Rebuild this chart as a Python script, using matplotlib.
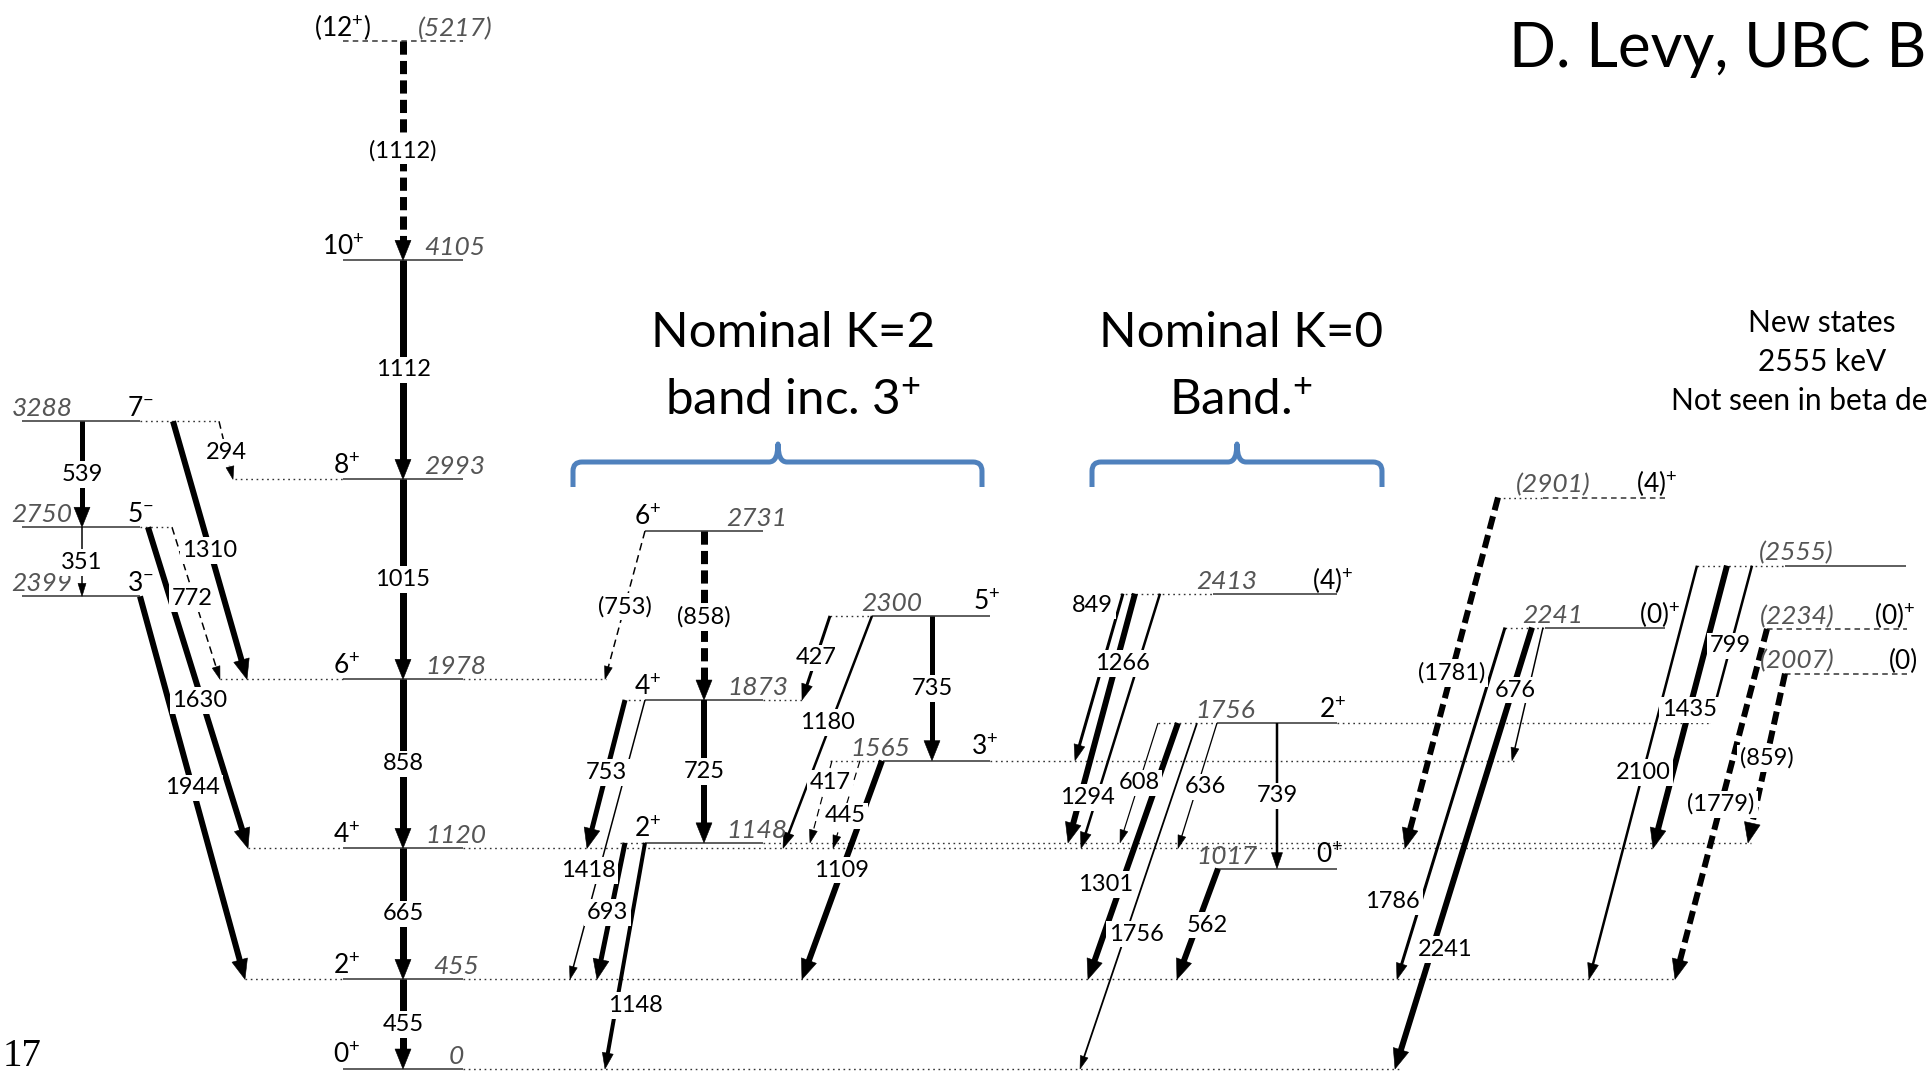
import matplotlib
matplotlib.use("Agg")
import numpy as np
import matplotlib.pyplot as plt
from matplotlib.path import Path
from matplotlib.patches import PathPatch, Polygon

plt.rcParams["font.family"] = ["Lato", "DejaVu Sans"]
plt.rcParams["mathtext.default"] = "regular"
plt.rcParams["lines.scale_dashes"] = False

# ---------------- levels (keV) ----------------
level_key = ["g0", "g2", "g4", "g6", "g8", "g10", "g12",
             "n3", "n5", "n7",
             "k2", "k4", "k6", "k3", "k5",
             "b0", "b2", "b4",
             "r2241", "r2901", "r2555", "r2234", "r2007"]
level_energy = [0, 455, 1120, 1978, 2993, 4105, 5217,
                2399, 2750, 3288,
                1148, 1873, 2731, 1565, 2300,
                1017, 1756, 2413,
                2241, 2901, 2555, 2234, 2007]
level_spin = ["0$^{+}$", "2$^{+}$", "4$^{+}$", "6$^{+}$", "8$^{+}$", "10$^{+}$", "(12$^{+}$)",
              "3$^{-}$", "5$^{-}$", "7$^{-}$",
              "2$^{+}$", "4$^{+}$", "6$^{+}$", "3$^{+}$", "5$^{+}$",
              "0$^{+}$", "2$^{+}$", "(4)$^{+}$",
              "(0)$^{+}$", "(4)$^{+}$", "", "(0)$^{+}$", "(0)"]
level_text = ["0", "455", "1120", "1978", "2993", "4105", "(5217)",
              "2399", "2750", "3288",
              "1148", "1873", "2731", "1565", "2300",
              "1017", "1756", "2413",
              "2241", "(2901)", "(2555)", "(2234)", "(2007)"]

# ---------------- gamma transitions ----------------
gamma_label = ["455", "665", "858", "1015", "1112", "(1112)",
               "539", "351", "294", "1310", "772", "1630", "1944",
               "(753)", "(858)", "725", "753", "1418", "693", "1148",
               "427", "1180", "735", "417", "445", "1109",
               "849", "1266", "1294", "608", "1301", "1756", "636", "739", "562",
               "(1781)", "1786", "2241", "676",
               "2100", "1435", "799", "(1779)", "(859)"]
gamma_from = ["g2", "g4", "g6", "g8", "g10", "g12",
              "n7", "n5", "n7", "n7", "n5", "n5", "n3",
              "k6", "k6", "k4", "k4", "k4", "k2", "k2",
              "k5", "k5", "k5", "k3", "k3", "k3",
              "b4", "b4", "b4", "b2", "b2", "b2", "b2", "b2", "b0",
              "r2901", "r2241", "r2241", "r2241",
              "r2555", "r2555", "r2555", "r2234", "r2007"]
gamma_to = ["g0", "g2", "g4", "g6", "g8", "g10",
            "n5", "n3", "g8", "g6", "g6", "g4", "g2",
            "g6", "k4", "k2", "g4", "g2", "g2", "g0",
            "k4", "g4", "k3", "k2", "g4", "g2",
            "k3", "k2", "g4", "k2", "g2", "g0", "g4", "b0", "g2",
            "g4", "g2", "g0", "k3",
            "g2", "g4", "b2", "g2", "k2"]
gamma_tentative = [False, False, False, False, False, True,
                   False, False, True, False, True, False, False,
                   True, True, False, False, False, False, False,
                   False, False, False, True, True, False,
                   False, False, False, False, False, False, False, False, False,
                   True, False, False, False,
                   False, False, False, True, True]

# ---------------- page layout (pixels) ----------------
W, H, DPI = 1927, 1075, 100
PX_PER_KEV = 0.197
ZERO_ROW = 1069

level_layout = {
    "g0": dict(x=(343, 463), spin=347, text=456, dots=[(463, 1401)]),
    "g2": dict(x=(343, 463), spin=347, text=456, dots=[(245, 343), (463, 1674)]),
    "g4": dict(x=(343, 463), spin=347, text=456, dots=[(248, 343), (463, 1653)]),
    "g6": dict(x=(343, 463), spin=347, text=456, dots=[(220, 343), (463, 606)]),
    "g8": dict(x=(343, 463), spin=347, text=455, dots=[(235, 343)]),
    "g10": dict(x=(343, 463), spin=343, text=455, dots=[]),
    "g12": dict(x=(343, 463), spin=343, text=455, dots=[], dashed=True),
    "n3": dict(x=(22, 140), spin=140, text=42, dots=[]),
    "n5": dict(x=(22, 140), spin=140, text=42, dots=[(140, 172)]),
    "n7": dict(x=(22, 140), spin=140, text=42, dots=[(140, 218)]),
    "k2": dict(x=(645, 763), spin=648, text=757, dots=[(620, 645), (763, 1751)]),
    "k4": dict(x=(645, 763), spin=648, text=758, dots=[(623, 645), (763, 802)]),
    "k6": dict(x=(645, 763), spin=648, text=757, dots=[]),
    "k3": dict(x=(883, 990), spin=985, text=880, dots=[(830, 883), (990, 1514)]),
    "k5": dict(x=(872, 990), spin=987, text=892, dots=[(830, 872)]),
    "b0": dict(x=(1217, 1337), spin=1330, text=1227, dots=[]),
    "b2": dict(x=(1217, 1337), spin=1333, text=1225, dots=[(1158, 1217), (1337, 1710)]),
    "b4": dict(x=(1213, 1337), spin=1333, text=1227, dots=[(1120, 1213)]),
    "r2241": dict(x=(1545, 1665), spin=1660, text=1553, dots=[(1505, 1545)]),
    "r2901": dict(x=(1543, 1665), spin=1657, text=1553, dots=[(1498, 1543)], dashed=True),
    "r2555": dict(x=(1785, 1906), spin=None, text=1796, dots=[(1697, 1785)]),
    "r2234": dict(x=(1767, 1907), spin=1895, text=1797, dots=[], dashed=True),
    "r2007": dict(x=(1785, 1907), spin=1903, text=1797, dots=[], dashed=True),
}

# x start, x end, line width (px), label position along the arrow, label x shift
gamma_layout = [
    (403, 403, 7, .50, 0), (403, 403, 7, .50, 0), (403, 403, 7, .50, 0),
    (403, 403, 7, .50, 0), (403, 403, 7, .50, 0), (403, 403, 7, .50, 0),
    (82, 82, 5, .50, 0), (82, 82, 1.5, .51, 0), (219, 233, 1.5, .53, 0),
    (173, 247, 6, .50, 0), (172, 220, 1.5, .47, -2), (148, 248, 6, .54, -2),
    (140, 245, 6, .50, 0),
    (645, 605, 1.5, .51, 0), (704, 704, 7, .51, 0), (704, 704, 6, .50, 0),
    (625, 587, 5, .49, 0), (645, 570, 1.5, .61, -11), (625, 597, 5, .51, -3),
    (645, 605, 4, .72, 19),
    (830, 802, 3, .50, 0), (872, 783, 2.5, .46, -4), (932, 932, 5, .50, 0),
    (832, 810, 1.2, .27, 4), (860, 833, 1.2, .63, 2), (882, 802, 6, .50, 0),
    (1123, 1075, 3, .07, -27), (1135, 1068, 6, .28, 6), (1160, 1081, 2.5, .80, -9),
    (1158, 1120, 1.2, .50, 0), (1178, 1088, 6, .63, -16), (1197, 1080, 1.8, .61, 11),
    (1217, 1178, 1.3, .51, 8), (1277, 1277, 2.5, .50, 0), (1218, 1177, 6, .51, 10),
    (1498, 1405, 6, .50, 0), (1505, 1397, 3, .78, -28), (1532, 1395, 6, .73, 13),
    (1543, 1512, 1.5, .47, -13),
    (1697, 1589, 2.5, .50, 0), (1727, 1653, 6, .51, 0), (1752, 1710, 2.5, .51, 0),
    (1767, 1675, 6, .50, 0), (1785, 1748, 6, .50, 0),
]


def row(p):
    """Pixel row (from top) -> energy coordinate."""
    return (ZERO_ROW - p) / PX_PER_KEV


def lift(E, dp):
    return E + dp / PX_PER_KEV


fig = plt.figure(figsize=(W / DPI, H / DPI), dpi=DPI)
ax = fig.add_axes([0, 0, 1, 1])
ax.set_xlim(0, W)
ax.set_ylim(row(H), row(0))
ax.axis("off")

energy_of = dict(zip(level_key, level_energy))
PT = 72.0 / DPI
LEVEL_FS = 19
GAMMA_FS = 17

# ---- levels ----
for key, E, spin, txt in zip(level_key, level_energy, level_spin, level_text):
    lay = level_layout[key]
    x0, x1 = lay["x"]
    ls = (0, (4, 3)) if lay.get("dashed") else "-"
    ax.plot([x0, x1], [E, E], color="#333333", lw=1.1, ls=ls,
            solid_capstyle="butt", zorder=2)
    for a, b in lay["dots"]:
        ax.plot([a, b], [E, E], color="#333333", lw=1.0, ls=(0, (1.2, 2.6)), zorder=1)
    if lay["spin"] is not None and spin:
        ax.text(lay["spin"], lift(E, 5), spin, ha="center", va="baseline",
                fontsize=LEVEL_FS, color="black", zorder=4)
    ax.text(lay["text"], lift(E, 5), txt, ha="center", va="baseline",
            fontsize=LEVEL_FS, style="italic", color="#555555", zorder=4)

# ---- gamma rays ----
T = ax.transData
Ti = T.inverted()
for lab, fr, to, tent, lay in zip(gamma_label, gamma_from, gamma_to,
                                  gamma_tentative, gamma_layout):
    x0, x1, lw_px, t, dx = lay
    E0, E1 = energy_of[fr], energy_of[to]
    p0 = T.transform((x0, E0))
    p1 = T.transform((x1, E1))
    d = p1 - p0
    u = d / np.hypot(*d)
    n = np.array([-u[1], u[0]])
    if lw_px >= 5:
        hl, hw = 20, 16
    elif lw_px >= 2.5:
        hl, hw = 16, 11
    else:
        hl, hw = 13, 8
    base = p1 - u * hl
    end = Ti.transform(base + u * 2)
    if tent:
        ls = (0, (9.5, 4.5)) if lw_px >= 4 else (0, (5.5, 3.5))
    else:
        ls = "-"
    ax.plot([x0, end[0]], [E0, end[1]], color="black", lw=lw_px * PT, ls=ls,
            solid_capstyle="butt", dash_capstyle="butt", zorder=3)
    head = Ti.transform(np.array([p1, base + n * hw / 2, base - n * hw / 2]))
    ax.add_patch(Polygon(head, closed=True, fc="black", ec="black", lw=0.4, zorder=3))
    ax.text(x0 + t * (x1 - x0) + dx, E0 + t * (E1 - E0), lab,
            ha="center", va="center", fontsize=GAMMA_FS, color="black", zorder=5,
            bbox=dict(boxstyle="square,pad=0.12", fc="white", ec="none"))

# ---- band headings with braces ----
BLUE = "#4F81BD"
band_titles = ["Nominal K=2\nband inc. 3$^{+}$", "Nominal K=0\nBand.$^{+}$"]
band_title_x = [793, 1241]
brace_span = [(573, 982, 778), (1092, 1382, 1237)]

for title, tx, (xl, xr, xc) in zip(band_titles, band_title_x, brace_span):
    first, second = title.split("\n")
    ax.text(tx, row(333), first, ha="center", va="center",
            fontsize=35.5, color="black")
    ax.text(tx, row(401), second, ha="center", va="center",
            fontsize=35.5, color="black")
    yb, ye, yt, r = 462, 487, 444, 9
    verts = [(xl, ye), (xl, yb + r), (xl, yb), (xl + r, yb), (xc - r, yb),
             (xc, yb), (xc, yt), (xc, yb), (xc + r, yb), (xr - r, yb),
             (xr, yb), (xr, yb + r), (xr, ye)]
    codes = [Path.MOVETO, Path.LINETO, Path.CURVE3, Path.CURVE3, Path.LINETO,
             Path.CURVE3, Path.CURVE3, Path.CURVE3, Path.CURVE3, Path.LINETO,
             Path.CURVE3, Path.CURVE3, Path.LINETO]
    verts = [(vx, row(vy)) for vx, vy in verts]
    ax.add_patch(PathPatch(Path(verts, codes), fc="none", ec=BLUE, lw=3.6,
                           capstyle="butt", joinstyle="round", zorder=2))

# ---- side notes ----
ax.text(1509, row(49), "D. Levy, UBC B", ha="left", va="center", fontsize=44.5,
        color="black")
note_lines = ["New states", "2555 keV", "Not seen in beta decay"]
for line, yy in zip(note_lines, [323, 362, 401]):
    ax.text(1822, row(yy), line, ha="center", va="center", fontsize=21.5, color="black")

ax.text(3, row(1066), "17", ha="left", va="baseline", fontsize=28,
        family="Liberation Serif", color="black")

fig.savefig("out.png", dpi=DPI, facecolor="white")
